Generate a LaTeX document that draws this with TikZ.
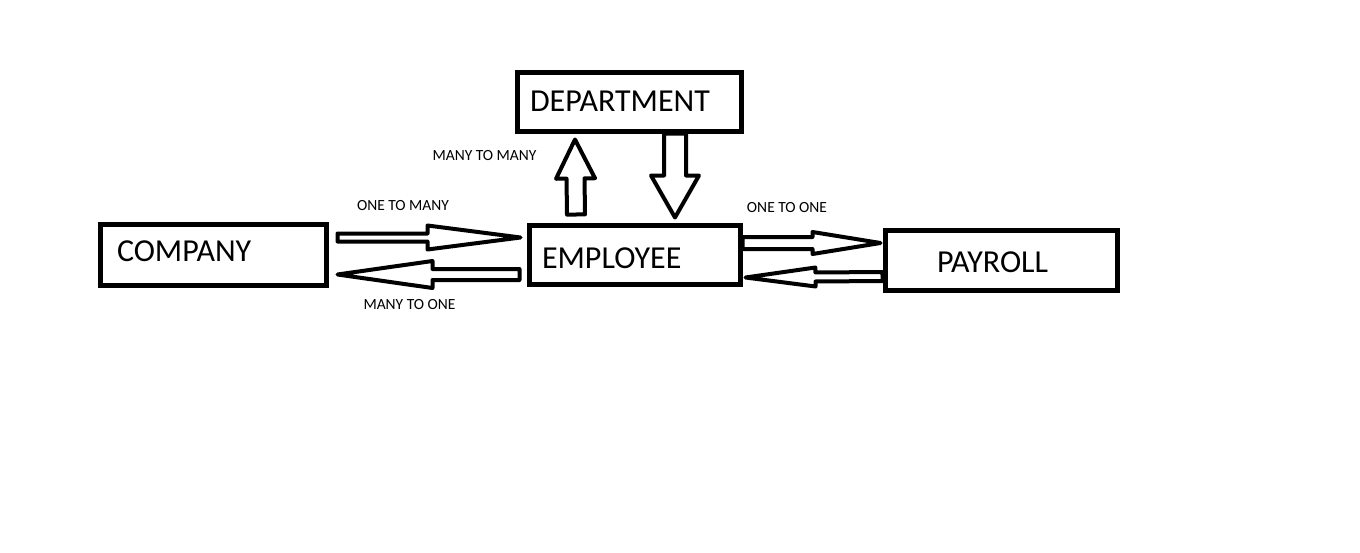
\documentclass[tikz,border=0pt]{standalone}
\usepackage{fontspec}
\setmainfont{Carlito}
\usepackage{tikz}
\usetikzlibrary{calc}

\begin{document}
\begin{tikzpicture}[x=1pt,y=-1pt,
box/.style={draw,line width=5pt,align=left,font=\fontsize{32}{36}\selectfont,inner ysep=0pt,text depth=0pt},
lbl/.style={font=\fontsize{15.5}{18}\selectfont,text=black},
ba/.style n args={3}{draw,line width=4pt,line join=round,to path={
  let \p1=(\tikztostart), \p2=(\tikztotarget), \p3=($(\p2)!#3!(\p1)$),
      \n1={atan2(\y2-\y1,\x2-\x1)} in
  ($(\p1)+({\n1+90}:#1)$) -- ($(\p3)+({\n1+90}:#1)$) -- ($(\p3)+({\n1+90}:#2)$) -- (\p2)
  -- ($(\p3)+({\n1-90}:#2)$) -- ($(\p3)+({\n1-90}:#1)$) -- ($(\p1)+({\n1-90}:#1)$) -- cycle}}
]
\useasboundingbox (0,0) rectangle (1360,552);

\node[box,minimum height=61pt,text width=192pt,inner xsep=17pt,text height=13.6pt] (comp) at (213,254.5) {COMPANY};
\node[box,minimum height=59pt,text width=185pt,inner xsep=13pt,text height=27.6pt] (emp) at (634.5,254.5) {EMPLOYEE};
\node[box,minimum height=59pt,text width=198pt,inner xsep=13pt,text height=19.6pt] (dep) at (629,101.5) {DEPARTMENT};
\node[box,minimum height=60pt,text width=128pt,inner xsep=52pt,text height=24.6pt] (pay) at (1001,260) {PAYROLL};

\node[lbl] (mm) at (484.5,156) {MANY TO MANY};
\node[lbl] (om) at (403,206) {ONE TO MANY};
\node[lbl] (mo) at (409.5,305) {MANY TO ONE};
\node[lbl] (oo) at (787,208) {ONE TO ONE};

% company <-> employee
\draw[ba={4pt}{12pt}{93pt}] ([xshift=9pt,yshift=17pt]comp.east) to ([xshift=-6pt,yshift=17pt]emp.west);
\draw[ba={5.5pt}{13.5pt}{95pt}] ([xshift=-7pt,yshift=-20pt]emp.west) to ([xshift=9pt,yshift=-20pt]comp.east);
% employee <-> payroll
\draw[ba={6pt}{11pt}{68pt}] ([yshift=11.5pt]emp.east) to ([xshift=-2pt,yshift=17pt]pay.west);
\draw[ba={4.5pt}{9.5pt}{70pt}] ([yshift=-16.5pt]pay.west) to ([xshift=3pt,yshift=-23pt]emp.east);
% employee <-> department
\draw[ba={9pt}{19.5pt}{39pt}] ([xshift=-58.5pt,yshift=8pt]emp.north) to ([xshift=-54pt,yshift=-6pt]dep.south);
\draw[ba={11pt}{24pt}{42pt}] ([xshift=46pt]dep.south) to ([xshift=40.5pt,yshift=5pt]emp.north);
\end{tikzpicture}
\end{document}
